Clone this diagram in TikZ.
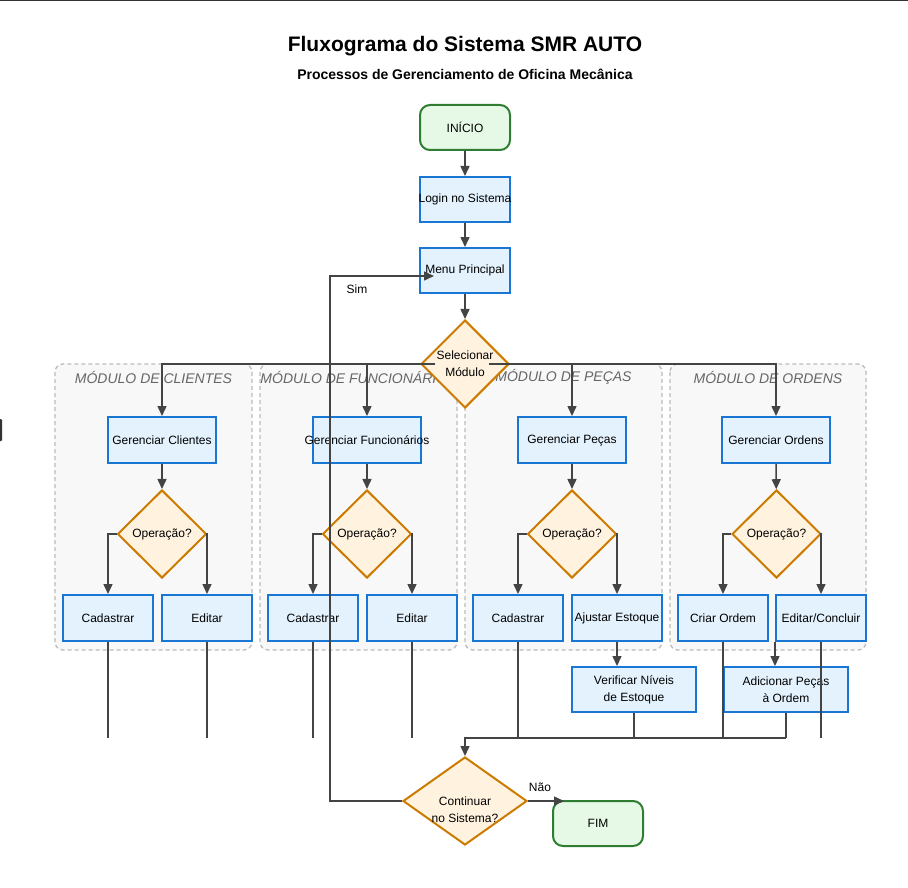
\documentclass[tikz,border=0pt]{standalone}
\usepackage{fontspec}
\setmainfont{Liberation Sans}
\usetikzlibrary{shapes.geometric,arrows.meta,calc}
\definecolor{bbord}{HTML}{1976D2}
\definecolor{bfill}{HTML}{E3F2FD}
\definecolor{dbord}{HTML}{CC7A00}
\definecolor{dfill}{HTML}{FFF3E0}
\definecolor{gbord}{HTML}{2E7D32}
\definecolor{gfill}{HTML}{E6F9E6}
\definecolor{conc}{HTML}{444444}
\definecolor{modfill}{HTML}{F8F8F8}
\definecolor{modbord}{HTML}{BBBBBB}
\definecolor{modtxt}{HTML}{666666}
\newcommand{\ov}[1]{\makebox[0pt]{#1}}
\begin{document}
\begin{tikzpicture}[x=1pt,y=-1pt,
 nf/.style={font=\fontsize{12}{17}\selectfont},
 procbox/.style={nf,rectangle,draw=bbord,fill=bfill,line width=2pt,minimum width=108pt,minimum height=46pt,inner sep=0pt,align=center},
 leafbox/.style={procbox,minimum width=90pt},
 widebox/.style={procbox,minimum width=124pt,minimum height=45pt},
 decis/.style={nf,diamond,draw=dbord,fill=dfill,line width=2pt,minimum width=89pt,minimum height=88pt,inner sep=0pt,align=center},
 term/.style={nf,rectangle,rounded corners=10pt,draw=gbord,fill=gfill,line width=2pt,minimum width=90pt,minimum height=45pt,inner sep=0pt},
 modbox/.style={draw=modbord,fill=modfill,line width=1.3pt,dash pattern=on 4pt off 3pt,rounded corners=8pt},
 modtitle/.style={font=\fontsize{14}{16}\selectfont\itshape,text=modtxt},
 conn/.style={draw=conc,line width=1.5pt,-{Triangle[length=10pt,width=9pt]}},
 wire/.style={draw=conc,line width=1.5pt},
 lbl/.style={nf}
]
\useasboundingbox (0,0) rectangle (908,888);
% frame artefacts
\fill[black!80] (0,0) rectangle (908,1.5);
\fill[black!80,rounded corners=1pt] (-3,419) rectangle (2,441);

% titles
\node[font=\fontsize{21}{24}\selectfont\bfseries] (title) at (465,46) {Fluxograma do Sistema SMR AUTO};
\node[font=\fontsize{14}{16}\selectfont\bfseries] (subtitle) at (465,74) {Processos de Gerenciamento de Oficina Mecânica};

% module containers
\draw[modbox] (55,364) rectangle (252,650);
\draw[modbox] (260,364) rectangle (457,650);
\draw[modbox] (465,364) rectangle (662,650);
\draw[modbox] (670,364) rectangle (866,650);
\node[modtitle] (t1) at (153.5,377) {MÓDULO DE CLIENTES};
\node[modtitle] (t2) at (358.5,377) {MÓDULO DE FUNCIONÁRIOS};
\node[modtitle] (t3) at (563.5,377) {MÓDULO DE PEÇAS};
\node[modtitle] (t4) at (768,377) {MÓDULO DE ORDENS};

% main flow nodes
\node[term] (inicio) at (465,127.5) {INÍCIO};
\node[procbox,minimum width=90pt,minimum height=45pt] (login) at (465,199.5) {\ov{Login no Sistema}};
\node[procbox,minimum width=90pt,minimum height=45pt] (menu) at (465,270.5) {\ov{Menu Principal}};
\node[decis,minimum width=88pt] (sel) at (465,364) {};

% module nodes
\node[procbox] (gc) at (162,440) {Gerenciar Clientes};
\node[procbox] (gf) at (367,440) {\ov{Gerenciar Funcionários}};
\node[procbox] (gp) at (572,440) {Gerenciar Peças};
\node[procbox] (go) at (776,440) {Gerenciar Ordens};

\node[decis] (op1) at (162,534) {Operação?};
\node[decis] (op2) at (367,534) {Operação?};
\node[decis] (op3) at (572,534) {Operação?};
\node[decis] (op4) at (776.5,534) {Operação?};

\node[leafbox] (cad1) at (108,618) {Cadastrar};
\node[leafbox] (ed1) at (207,618) {Editar};
\node[leafbox] (cad2) at (313,618) {Cadastrar};
\node[leafbox] (ed2) at (412,618) {Editar};
\node[leafbox] (cad3) at (518,618) {Cadastrar};
\node[leafbox] (ajust) at (617,618) {\ov{Ajustar Estoque}};
\node[leafbox] (criar) at (723,618) {Criar Ordem};
\node[leafbox] (ec) at (821,618) {\ov{Editar/Concluir}};

\node[widebox] (verif) at (634,689.5) {Verificar Níveis\\de Estoque};
\node[widebox] (adic) at (786,689.5) {Adicionar Peças\\à Ordem};

\node[decis,minimum width=124pt] (cont) at (465,801) {};
\node[nf,align=center,inner sep=0pt] (contt) at (465,809.5) {Continuar\\no Sistema?};
\node[term] (fim) at (598,823.5) {FIM};

% connectors: main
\draw[conn] (inicio) -- (login);
\draw[conn] (login) -- (menu);
\draw[conn] (menu) -- (sel);
\coordinate (selL) at ($(sel.center)+(-30,0)$);
\coordinate (selR) at ($(sel.center)+(24,0)$);
\draw[conn] (selL) -| (gc.north);
\draw[conn] (selL) -| (gf.north);
\draw[conn] (selR) -| (gp.north);
\draw[conn] (selR) -| (go.north);
\node[nf,align=center,inner sep=0pt] (selt) at (sel.center) {Selecionar\\Módulo};

% connectors: modules
\draw[conn] (gc) -- (op1);
\draw[conn] (gf) -- (op2);
\draw[conn] (gp) -- (op3);
\draw[conn] (go) -- (op4);
\draw[conn] (op1.west) -| (cad1.north);
\draw[conn] (op1.east) -| (ed1.north);
\draw[conn] (op2.west) -| (cad2.north);
\draw[conn] (op2.east) -| (ed2.north);
\draw[conn] (op3.west) -| (cad3.north);
\draw[conn] (op3.east) -| (ajust.north);
\draw[conn] (op4.west) -| (criar.north);
\draw[conn] (op4.east) -| (ec.north);

\coordinate (mY) at (0,738);
\draw[wire] (cad1.south) -- (cad1.south |- mY);
\draw[wire] (ed1.south) -- (ed1.south |- mY);
\draw[wire] (cad2.south) -- (cad2.south |- mY);
\draw[wire] (ed2.south) -- (ed2.south |- mY);
\draw[wire] (cad3.south) -- (cad3.south |- mY);
\draw[conn] (ajust.south) -- (ajust.south |- verif.north);
\draw[wire] (verif.south) -- (verif.south |- mY);
\draw[wire] (criar.south) -- (criar.south |- mY);
\draw[conn] (ec.south west) -- (ec.south west |- adic.north);
\draw[wire] (ec.south) -- (ec.south |- mY);
\draw[wire] (adic.south) -- (adic.south |- mY);
\draw[conn] (adic.south |- mY) -- (cont.north |- mY) -- (cont.north);

% end / loop
\coordinate (fimtip) at ($(fim.north west)+(12,0)$);
\draw[conn] (cont.east) -- (cont.east -| fimtip);
\node[lbl] (nao) at (540,787) {Não};
\coordinate (menutip) at ($(menu.west)+(15,5.5)$);
\draw[conn] (cont.west) -- ++(-72,0) |- (menutip);
\node[lbl] (sim) at (357,289) {Sim};
\end{tikzpicture}
\end{document}
